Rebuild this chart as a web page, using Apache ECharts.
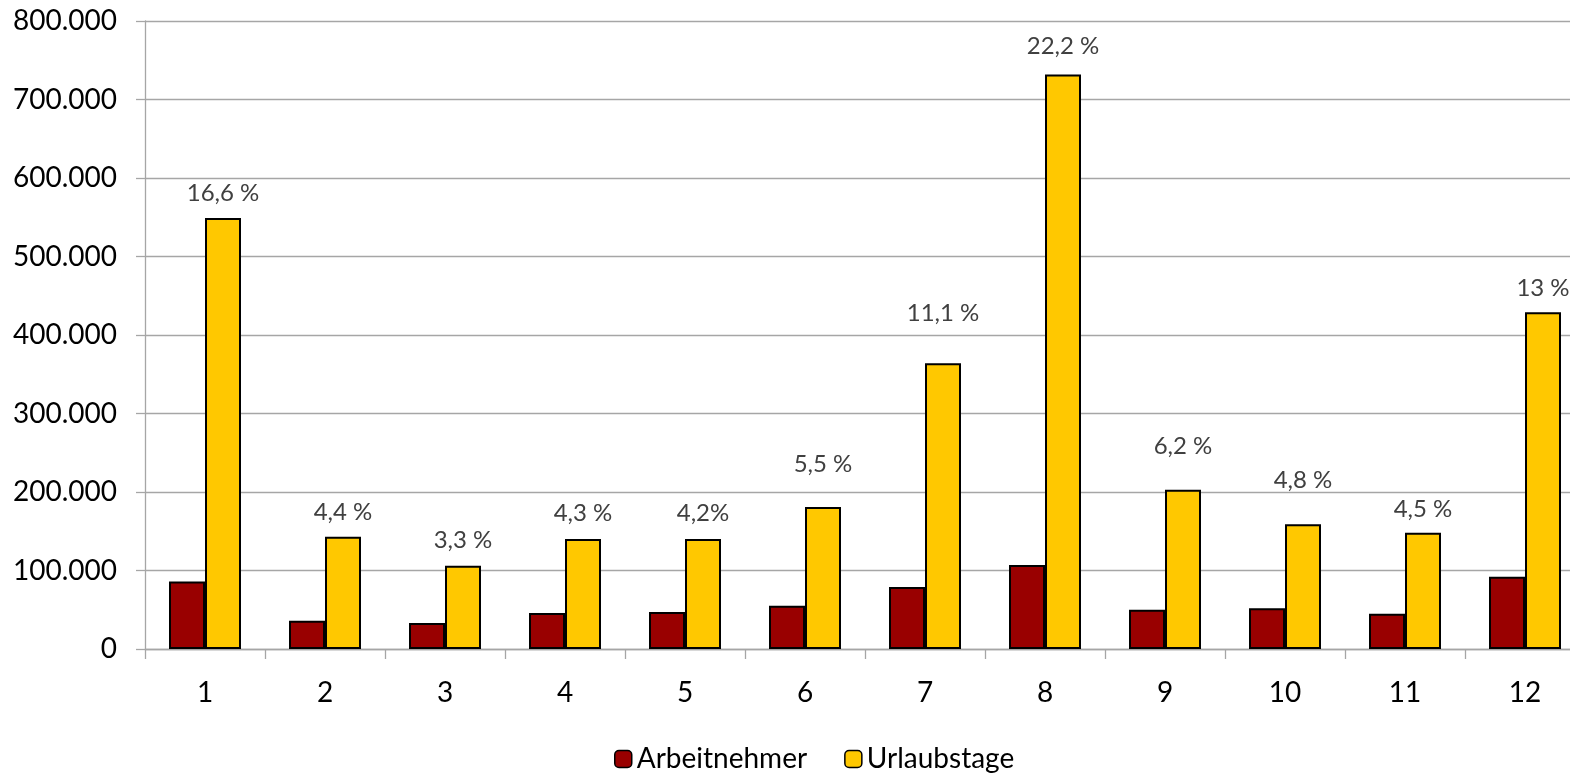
<!DOCTYPE html>
<html>
<head>
<meta charset="utf-8">
<script src="https://cdn.jsdelivr.net/npm/echarts@6/dist/echarts.min.js"></script>
<style>
html,body{margin:0;padding:0;background:#fff;}
#c{width:1570px;height:774px;}
</style>
</head>
<body>
<div id="c"></div>
<script>
var categories = ['1','2','3','4','5','6','7','8','9','10','11','12'];
var arbeitnehmer = [86000, 36000, 33000, 46000, 47000, 55000, 79000, 107000, 50000, 52000, 45000, 92000];
var urlaubstage = [549000, 143000, 106000, 140000, 140000, 181000, 364000, 732000, 203000, 159000, 148000, 429000];
var percentLabels = ['16,6 %','4,4 %','3,3 %','4,3 %','4,2%','5,5 %','11,1 %','22,2 %','6,2 %','4,8 %','4,5 %','13 %'];
var yTicks = [0, 100000, 200000, 300000, 400000, 500000, 600000, 700000, 800000];
// label lift above each bar (styling only)
var labelLift = [13, 12, 14, 14, 14, 31, 38, 16, 31, 32, 12, 12];

var FONT = 'Lato';
function fmt(v){
  if (v === 0) return '0';
  return String(v).replace(/\B(?=(\d{3})+(?!\d))/g, '.');
}

var chart = echarts.init(document.getElementById('c'), null, {renderer:'canvas'});
chart.setOption({
  animation: false,
  textStyle: {fontFamily: FONT},
  grid: {left: 145, width: 1440, top: 21, bottom: 125, containLabel: false, outerBoundsMode: 'none'},
  legend: {
    left: 609, top: 740,
    itemWidth: 17, itemHeight: 17, itemGap: 37,
    itemStyle: {borderColor: '#000', borderWidth: 1.5},
    textStyle: {fontFamily: FONT, fontSize: 28, color: '#000'},
    data: ['Arbeitnehmer', 'Urlaubstage']
  },
  xAxis: {
    type: 'category',
    data: categories,
    axisLine: {show: true, lineStyle: {color: '#A6A6A6', width: 1.3}},
    axisTick: {show: true, length: 10, lineStyle: {color: '#A6A6A6', width: 1.3}},
    axisLabel: {fontFamily: FONT, fontSize: 28, color: '#000', margin: 30}
  },
  yAxis: {
    type: 'value',
    min: yTicks[0], max: yTicks[yTicks.length-1], interval: yTicks[1]-yTicks[0],
    axisLine: {show: true, lineStyle: {color: '#A6A6A6', width: 1.3}},
    axisTick: {show: true, length: 9, lineStyle: {color: '#A6A6A6', width: 1.3}},
    splitLine: {show: true, lineStyle: {color: '#A6A6A6', width: 1.3}},
    axisLabel: {fontFamily: FONT, fontSize: 28, color: '#000', margin: 28, formatter: fmt}
  },
  series: [
    {
      name: 'Arbeitnehmer', type: 'bar',
      barGap: '0%', barCategoryGap: '40%',
      data: arbeitnehmer,
      itemStyle: {color: '#990000', borderColor: '#000', borderWidth: 2}
    },
    {
      name: 'Urlaubstage', type: 'bar',
      barGap: '0%', barCategoryGap: '40%',
      data: urlaubstage.map(function(v, i){
        return {value: v, label: {distance: labelLift[i]}};
      }),
      itemStyle: {color: '#FFC800', borderColor: '#000', borderWidth: 2},
      label: {
        show: true, position: 'top',
        fontFamily: FONT, fontSize: 24, color: '#404040',
        formatter: function(p){ return percentLabels[p.dataIndex]; }
      }
    }
  ]
});
</script>
</body>
</html>
